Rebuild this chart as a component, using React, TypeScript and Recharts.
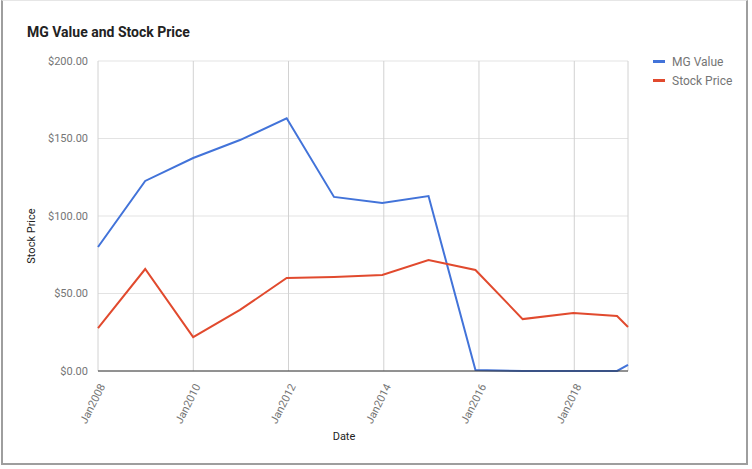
import React from 'react';
import { LineChart, Line, XAxis, YAxis, CartesianGrid } from 'recharts';

const dates = [
  '2008-01-01', '2008-12-28', '2009-12-31', '2010-12-25', '2011-12-18', '2012-12-15',
  '2013-12-20', '2014-12-10', '2015-12-05', '2016-12-01', '2017-12-25', '2018-11-25', '2019-02-17',
];
const mgValue = [80, 122.6, 137.4, 149, 163, 112.3, 108.4, 112.9, 0.6, 0, 0, 0, 3.9];
const stockPrice = [27.7, 65.8, 21.9, 39.4, 60, 60.6, 61.9, 71.6, 65.2, 33.5, 37.4, 35.5, 28.4];
const yTicks = [0, 50, 100, 150, 200];
const xTickYears = [2008, 2010, 2012, 2014, 2016, 2018];
const seriesNames = ['MG Value', 'Stock Price'];

const BLUE = '#4273d9';
const RED = '#e14a2e';
const FONT = 'Roboto, Arial, sans-serif';

const toTime = (s: string) => {
  const [y, m, d] = s.split('-').map(Number);
  return Date.UTC(y, m - 1, d);
};

const data = dates.map((d, i) => ({
  t: toTime(d),
  mg: mgValue[i],
  price: stockPrice[i],
}));

const xTicks = xTickYears.map((y) => Date.UTC(y, 0, 1));

const XTick = (props: any) => {
  const { x, y, payload } = props;
  const yr = new Date(payload.value).getUTCFullYear();
  return (
    <text
      x={x + 5}
      y={y + 6}
      transform={`rotate(-63, ${x + 5}, ${y + 6})`}
      textAnchor="end"
      dominantBaseline="middle"
      fontSize={11}
      fill="#757575"
      fontFamily={FONT}
    >
      {`Jan${yr}`}
    </text>
  );
};

export default function App() {
  const colors = [BLUE, RED];
  return (
    <div style={{ position: 'absolute', left: 0, top: 0, width: 752, height: 469, background: '#fff' }}>
      <div
        style={{
          position: 'absolute',
          left: 1,
          top: 0,
          width: 747,
          height: 465,
          borderLeft: '2px solid #9e9e9e',
          borderRight: '2px solid #9e9e9e',
          borderBottom: '2px solid #9e9e9e',
          borderTop: '1px solid #e6e6e6',
          boxSizing: 'border-box',
        }}
      />
      <div
        style={{
          position: 'absolute',
          left: 27,
          top: 24,
          fontFamily: FONT,
          fontWeight: 'bold',
          fontSize: 14,
          color: '#222',
        }}
      >
        MG Value and Stock Price
      </div>
      <div
        style={{
          position: 'absolute',
          left: 653,
          top: 52,
          fontFamily: FONT,
          fontSize: 12,
          color: '#757575',
          zIndex: 2,
        }}
      >
        {seriesNames.map((name, i) => (
          <div key={name} style={{ display: 'flex', alignItems: 'center', height: 19 }}>
            <span
              style={{ display: 'inline-block', width: 12, height: 3, background: colors[i], marginRight: 7 }}
            />
            {name}
          </div>
        ))}
      </div>
      <LineChart
        width={752}
        height={469}
        data={data}
        margin={{ top: 61, right: 124, left: 28, bottom: 0 }}
        style={{ position: 'absolute', left: 0, top: 0 }}
      >
        <CartesianGrid stroke="#e3e3e3" strokeWidth={1} vertical={false} />
        <CartesianGrid stroke="#d2d2d2" strokeWidth={1} horizontal={false} />
        <XAxis
          dataKey="t"
          type="number"
          scale="time"
          domain={[toTime('2008-01-01'), toTime('2019-02-17')]}
          ticks={xTicks}
          tick={<XTick />}
          tickLine={false}
          axisLine={{ stroke: '#333', strokeWidth: 1 }}
          height={98}
          interval={0}
          label={{
            content: () => (
              <text x={344} y={437} textAnchor="middle" dominantBaseline="middle" fontSize={11} fill="#222" fontFamily={FONT}>
                Date
              </text>
            ),
          }}
        />
        <YAxis
          domain={[0, 200]}
          ticks={yTicks}
          width={70}
          tickLine={false}
          axisLine={false}
          tickFormatter={(v: number) => `$${v.toFixed(2)}`}
          tick={{ fontSize: 11, fill: '#757575', fontFamily: FONT, dx: -2 }}
          label={{
            content: () => (
              <text
                x={32}
                y={236}
                transform="rotate(-90, 32, 236)"
                textAnchor="middle"
                dominantBaseline="middle"
                fontSize={11}
                fill="#222"
                fontFamily={FONT}
              >
                Stock Price
              </text>
            ),
          }}
        />
        <Line
          type="linear"
          dataKey="mg"
          name={seriesNames[0]}
          stroke={BLUE}
          strokeWidth={2}
          dot={false}
          isAnimationActive={false}
        />
        <Line
          type="linear"
          dataKey="price"
          name={seriesNames[1]}
          stroke={RED}
          strokeWidth={2}
          dot={false}
          isAnimationActive={false}
        />
      </LineChart>
    </div>
  );
}
